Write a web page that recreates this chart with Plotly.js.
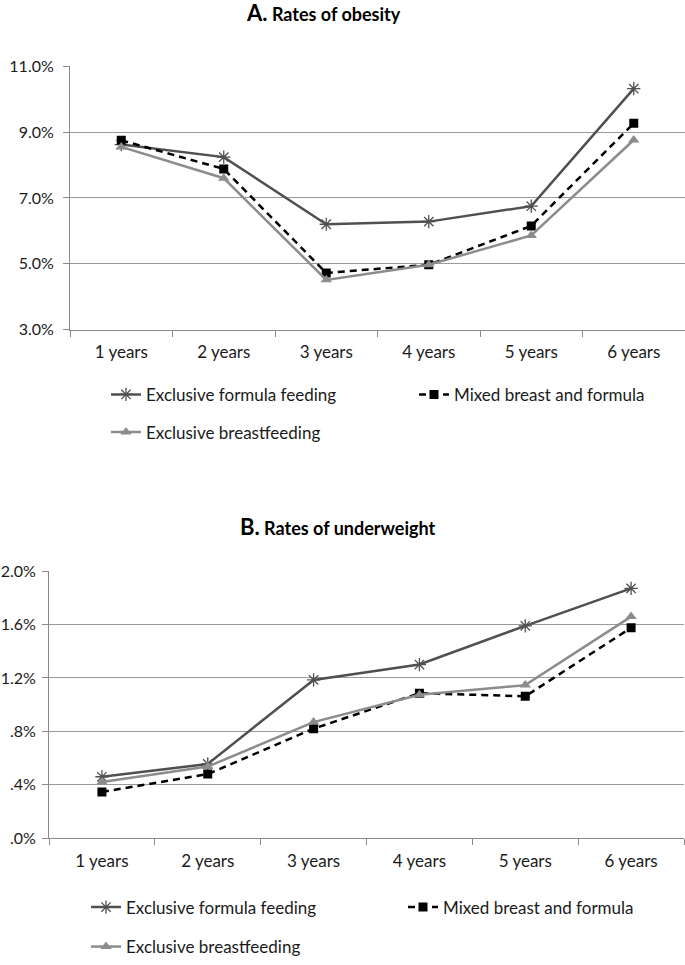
<!DOCTYPE html>
<html>
<head>
<meta charset="utf-8">
<script src="https://cdn.plot.ly/plotly-3.0.1.min.js"></script>
<style>html,body{margin:0;padding:0;background:#fff;}#chart{width:685px;height:965px;}</style>
</head>
<body>
<div id="chart"></div>
<script>
const categories = ['1 years', '2 years', '3 years', '4 years', '5 years', '6 years'];
const seriesNames = ['Exclusive formula feeding', 'Mixed breast and formula', 'Exclusive breastfeeding'];

const obesityFormula = [8.62, 8.24, 6.20, 6.28, 6.75, 10.32];
const obesityMixed   = [8.75, 7.88, 4.72, 4.97, 6.15, 9.27];
const obesityBreast  = [8.55, 7.60, 4.51, 4.97, 5.86, 8.76];

const underFormula = [0.46, 0.556, 1.185, 1.30, 1.59, 1.87];
const underMixed   = [0.346, 0.48, 0.82, 1.086, 1.062, 1.575];
const underBreast  = [0.42, 0.536, 0.869, 1.074, 1.146, 1.659];

const obesityTickVals = [3, 5, 7, 9, 11];
const obesityTickText = ['3.0%', '5.0%', '7.0%', '9.0%', '11.0%'];
const underTickVals = [0, 0.4, 0.8, 1.2, 1.6, 2.0];
const underTickText = ['.0%', '.4%', '.8%', '1.2%', '1.6%', '2.0%'];

const W = 685, H = 965;
const FONT = "Lato, 'Noto Sans', sans-serif";
const FS = 17;
const px = v => v / W;
const py = v => 1 - v / H;

const styles = [
  {line: {color: '#505050', width: 2.5}, marker: {symbol: 'asterisk-open', size: 11, color: '#505050', line: {color: '#505050', width: 1.3}}},
  {line: {color: '#000000', width: 2.5, dash: '7px,5px'}, marker: {symbol: 'square', size: 9, color: '#000000'}},
  {line: {color: '#8c8c8c', width: 2.5}, marker: {symbol: 'triangle-up', size: 10, color: '#8c8c8c'}}
];

function mk(y, i, xa, ya, leg) {
  return Object.assign({
    x: categories, y: y, name: seriesNames[i], type: 'scatter', mode: 'lines+markers',
    xaxis: xa, yaxis: ya, legend: leg, showlegend: true
  }, JSON.parse(JSON.stringify(styles[i])));
}

const data = [
  mk(obesityFormula, 0, 'x', 'y', 'legend'),
  mk(obesityMixed, 1, 'x', 'y', 'legend2'),
  mk(obesityBreast, 2, 'x', 'y', 'legend3'),
  mk(underFormula, 0, 'x2', 'y2', 'legend4'),
  mk(underMixed, 1, 'x2', 'y2', 'legend5'),
  mk(underBreast, 2, 'x2', 'y2', 'legend6')
];

function xax(d0, d1, anchor) {
  return {
    type: 'category', domain: [px(d0), px(d1)], anchor: anchor, range: [-0.5, 5.5],
    showline: true, linecolor: '#8a8a8a', linewidth: 1, showgrid: false, zeroline: false,
    ticks: 'outside', tickson: 'boundaries', ticklen: 6, tickcolor: '#8a8a8a', tickwidth: 1,
    ticklabelstandoff: 7, tickfont: {family: FONT, size: FS, color: '#1a1a1a'}, fixedrange: true
  };
}
function yax(top, bottom, anchor, range, vals, text, standoff) {
  return {
    domain: [py(bottom), py(top)], anchor: anchor, range: range,
    tickmode: 'array', tickvals: vals, ticktext: text,
    showline: true, linecolor: '#8a8a8a', linewidth: 1, showgrid: true, gridcolor: '#9a9a9a', gridwidth: 1,
    zeroline: false, ticks: 'outside', ticklen: 6, tickcolor: '#8a8a8a',
    ticklabelstandoff: standoff, tickfont: {family: FONT, size: 16, color: '#1a1a1a'}, fixedrange: true
  };
}
function leg(x, y) {
  return {x: px(x), y: py(y), xanchor: 'left', yanchor: 'middle', orientation: 'h',
    font: {family: FONT, size: FS, color: '#1a1a1a'}, bgcolor: 'rgba(0,0,0,0)', borderwidth: 0, itemwidth: 30};
}

const layout = {
  width: W, height: H, margin: {l: 0, r: 0, t: 0, b: 0},
  paper_bgcolor: '#ffffff', plot_bgcolor: '#ffffff', showlegend: true,
  xaxis: xax(70, 685, 'y'),
  yaxis: yax(67, 333, 'x', [3, 11], obesityTickVals, obesityTickText, 6),
  xaxis2: xax(49, 684, 'y2'),
  yaxis2: yax(577, 847, 'x2', [0, 2], underTickVals, underTickText, 3),
  legend: leg(106, 399),
  legend2: leg(414, 399),
  legend3: leg(106, 437),
  legend4: leg(86, 917),
  legend5: leg(403, 917),
  legend6: leg(86, 957),
  annotations: [
    {xref: 'paper', yref: 'paper', x: px(323), y: py(13), xanchor: 'center', yanchor: 'middle', showarrow: false,
     text: "<b><span style='font-size:22px'>A.</span> Rates of obesity</b>", font: {family: FONT, size: 18, color: '#000'}},
    {xref: 'paper', yref: 'paper', x: px(338), y: py(532), xanchor: 'center', yanchor: 'middle', showarrow: false,
     text: "<b><span style='font-size:22px'>B.</span> Rates of underweight</b>", font: {family: FONT, size: 18, color: '#000'}}
  ]
};

Plotly.newPlot('chart', data, layout, {displayModeBar: false, staticPlot: true});
</script>
</body>
</html>
